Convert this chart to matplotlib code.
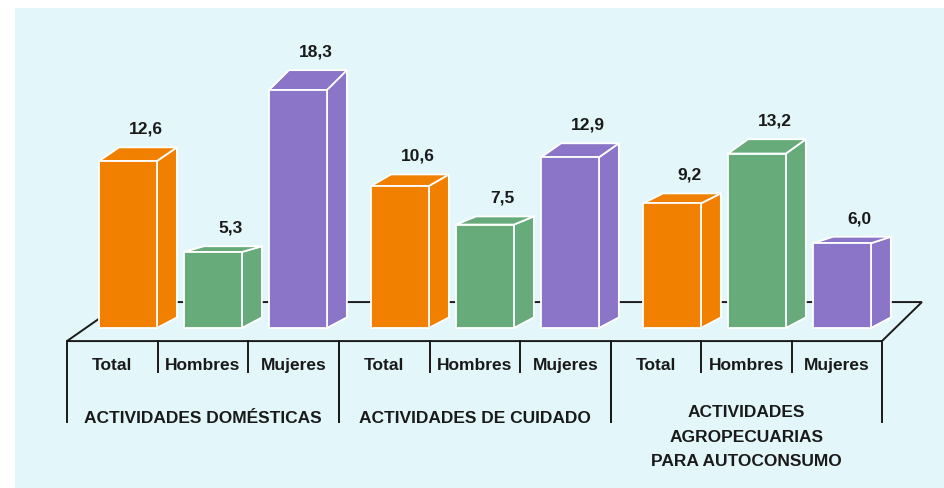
import numpy as np
import matplotlib
matplotlib.use('Agg')
import matplotlib.pyplot as plt
from matplotlib.patches import Rectangle, Polygon

# data
groups = ['ACTIVIDADES DOMÉSTICAS', 'ACTIVIDADES DE CUIDADO',
          'ACTIVIDADES\nAGROPECUARIAS\nPARA AUTOCONSUMO']
series = ['Total', 'Hombres', 'Mujeres']
total = [12.6, 10.6, 9.2]
hombres = [5.3, 7.5, 13.2]
mujeres = [18.3, 12.9, 6.0]
colors = ['#F28000', '#67AB7B', '#8B75C8']


def fmt(v):
    return ('%.1f' % v).replace('.', ',')


def main():
    # no narrow font available, so a slightly smaller Liberation Sans keeps the widths
    plt.rcParams['font.family'] = ['Liberation Sans', 'DejaVu Sans']
    plt.rcParams['font.weight'] = 'bold'
    fs = 12.5

    fig = plt.figure(figsize=(9.44, 4.88), dpi=100)
    # light cyan panel, white strip left and top
    fig.patches.append(Rectangle((15 / 944, 0), 1, 480 / 488, transform=fig.transFigure,
                                 facecolor='#E3F6F9', edgecolor='none', zorder=-10))
    ax = fig.add_axes([0, 0, 1, 1])
    ax.set_axis_off()
    ax.patch.set_alpha(0)
    ax.set_xlim(-1.506, 9.6)
    ax.set_ylim(-13.64, 25.52)

    vals = np.array([total, hombres, mujeres])   # series x group
    gstep = 3.2            # distance between groups (in bar slots)
    w = 0.68               # bar width
    dx = 0.235             # depth to the right
    base = -0.8            # bars start a bit under zero

    # floor (drawn first, bars hide most of it)
    fy0, fy1 = -1.85, 1.28
    fx = [-0.718, 2 * gstep + 2.47]
    floor = Polygon([(fx[0], fy0), (fx[1], fy0), (fx[1] + 0.47, fy1), (-0.06, fy1)],
                    closed=True, fill=False, edgecolor='#1a1a1a', lw=1.4, zorder=1)
    ax.add_patch(floor)

    for g in range(len(groups)):
        for i in range(len(series)):
            v = vals[i, g]
            xc = g * gstep + i
            xl, xr = xc - w / 2, xc + w / 2
            dv = 0.087 * v
            c = colors[i]
            kw = dict(facecolor=c, edgecolor='white', lw=1.3, zorder=3)
            ax.add_patch(Polygon([(xr, base), (xr + dx, base + 0.85), (xr + dx, v + dv), (xr, v)], **kw))
            ax.add_patch(Polygon([(xl, v), (xr, v), (xr + dx, v + dv), (xl + dx, v + dv)], **kw))
            ax.add_patch(Rectangle((xl, base), w, v - base, **kw))
            ax.text(xc + 0.21, v + dv + 1.45, fmt(v), ha='center', va='center',
                    fontsize=fs, fontweight='bold', color='#1a1a1a', zorder=4)

        # category dividers and labels under the floor
        left = fx[0] + g * gstep
        right = fx[1] if g == 2 else left + gstep
        divs = np.linspace(left, right, 4)
        for k, d in enumerate(divs):
            low = -8.35 if k in (0, 3) else -4.33
            ax.plot([d, d], [fy0, low], color='#1a1a1a', lw=1.4, zorder=2)
        for i in range(len(series)):
            ax.text((divs[i] + divs[i + 1]) / 2, -3.77, series[i], ha='center', va='center',
                    fontsize=fs, fontweight='bold', color='#1a1a1a')
        gy = -9.55 if '\n' in groups[g] else -8.03
        ax.text((divs[0] + divs[3]) / 2, gy, groups[g], ha='center', va='center',
                fontsize=fs, fontweight='bold', color='#1a1a1a', linespacing=1.8)

    fig.savefig('out.png', dpi=100, facecolor='white')


if __name__ == '__main__':
    main()
